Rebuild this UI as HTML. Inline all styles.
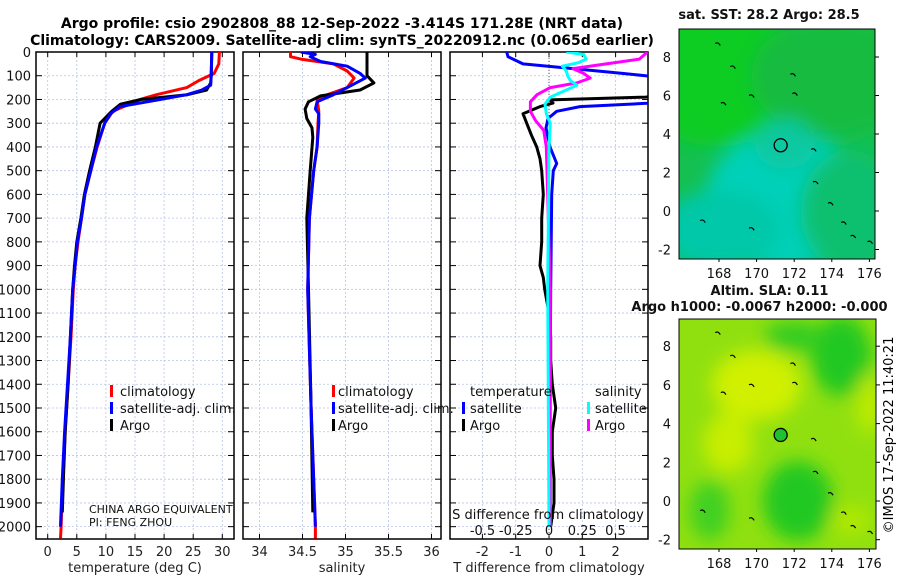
<!DOCTYPE html>
<html><head><meta charset="utf-8">
<style>
html,body{margin:0;padding:0;background:#fff;}
body{width:900px;height:580px;overflow:hidden;font-family:"DejaVu Sans","Liberation Sans",sans-serif;}
svg text{font-family:"DejaVu Sans","Liberation Sans",sans-serif;}
</style></head>
<body>
<svg id="fig" width="900" height="580" viewBox="0 0 900 580" xmlns="http://www.w3.org/2000/svg">
<defs>
<filter id="blur6" x="-50%" y="-50%" width="200%" height="200%"><feGaussianBlur stdDeviation="9"/></filter>
<clipPath id="clipMap1"><rect x="679" y="29" width="196" height="230"/></clipPath>
<clipPath id="clipMap2"><rect x="679" y="319" width="197" height="230"/></clipPath>
<clipPath id="clipP1"><rect x="36" y="52" width="198" height="487"/></clipPath>
<clipPath id="clipP2"><rect x="243" y="52" width="198" height="487"/></clipPath>
<clipPath id="clipP3"><rect x="450" y="52" width="198" height="487"/></clipPath>
</defs>
<text x="342" y="28" font-size="14" font-weight="bold" text-anchor="middle">Argo profile: csio 2902808_88 12-Sep-2022 -3.414S 171.28E (NRT data)</text>
<text x="342" y="45" font-size="14" font-weight="bold" text-anchor="middle">Climatology: CARS2009. Satellite-adj clim: synTS_20220912.nc (0.065d earlier)</text>
<g id="panels"></g>
<g id="maps"></g>
<text font-size="13" text-anchor="middle" transform="translate(893,435) rotate(-90)">©IMOS 17-Sep-2022 11:40:21</text>
</svg>
<script>
// ---- data arrays ----
const depthTicks = [0,100,200,300,400,500,600,700,800,900,1000,1100,1200,1300,1400,1500,1600,1700,1800,1900,2000];
const tempTicks = [0,5,10,15,20,25,30];
const salTicks = [34,34.5,35,35.5,36];
const tdiffTicks = [-2,-1,0,1,2];
const sdiffTicks = [-0.5,-0.25,0,0.25,0.5];
const sdiffTickLabels = ["-0.5","-0.25","0","0.25","0.5"];

const climTempDepth = [0,50,90,120,150,180,200,250,300,400,500,600,700,800,900,1000,1200,1400,1600,1800,2000,2050];
const climTempVal   = [29.5,29.4,28.6,26,23.9,18.7,15.9,11.2,9.8,8.5,7.4,6.4,5.8,5.2,4.7,4.4,4.0,3.5,3.0,2.6,2.3,2.2];
const satTempDepth = [0,100,140,160,180,200,230,260,300,400,500,600,700,800,900,1000,1200,1400,1600,1800,2000];
const satTempVal   = [28.2,28.1,28.0,26.5,23.9,19.3,12.4,10.8,9.8,8.4,7.4,6.4,5.8,5.1,4.7,4.3,3.9,3.4,2.9,2.5,2.2];
const argoTempDepth = [0,100,130,160,180,200,220,250,300,400,500,600,700,800,900,1000,1200,1400,1600,1800,1940];
const argoTempVal   = [28.2,28.1,28.0,27.3,24,16,12.5,11,9.0,8.2,7.2,6.3,5.7,5.0,4.6,4.3,3.9,3.5,3.0,2.7,2.5];

const climSalDepth = [0,20,30,50,80,110,150,180,200,250,300,400,500,700,1000,1500,2000,2050];
const climSalVal   = [34.36,34.36,34.48,34.86,35.02,35.1,35.02,34.79,34.67,34.69,34.68,34.67,34.63,34.58,34.56,34.6,34.65,34.65];
const satSalDepth = [0,10,20,40,60,90,110,150,180,210,240,260,300,400,500,700,1000,1500,2000];
const satSalVal   = [34.48,34.65,34.59,34.71,35.02,35.17,35.23,35.02,34.86,34.67,34.65,34.69,34.69,34.67,34.63,34.58,34.56,34.6,34.65];
const argoSalDepth = [0,100,130,160,185,210,240,280,320,360,500,700,1000,1500,1940];
const argoSalVal   = [35.25,35.25,35.33,35.17,34.71,34.57,34.53,34.55,34.61,34.62,34.59,34.55,34.57,34.6,34.62];

const satTdiffDepth = [0,20,50,70,90,110,140,200,216,230,250,280,320,400,470,500,600,1000,1500,2000];
const satTdiffVal   = [-1.27,-1.23,-0.78,0.72,2.2,3.6,4.5,4.5,2.93,0.93,0.23,-0.03,-0.09,0.03,0.23,0.13,0.08,0.05,0.03,0.0];
const argoTdiffDepth = [175,190,202,215,230,260,300,350,400,450,500,600,700,800,900,950,1000,1100,1200,1300,1400,1500,1600,1700,1800,1900,2000];
const argoTdiffVal   = [4,2.9,0.03,0.12,-0.27,-0.78,-0.67,-0.53,-0.37,-0.27,-0.22,-0.17,-0.22,-0.22,-0.27,-0.17,-0.13,0,0.05,0.05,0.1,0.2,0.1,0.1,0.15,0.15,0.05];
const satSdiffDepth = [0,10,30,45,60,80,100,120,140,160,190,220,260,300,400,1000,2000];
const satSdiffVal   = [0.13,0.26,0.28,0.22,0.1,0.13,0.14,0.16,0.21,0.13,0.01,-0.03,-0.02,0.01,0,-0.01,0];
const argoSdiffDepth = [0,30,50,70,90,110,130,150,180,210,250,290,330,400,600,1000,2000];
const argoSdiffVal   = [0.74,0.68,0.43,0.18,0.26,0.31,0.21,0.01,-0.09,-0.14,-0.14,-0.1,-0.04,-0.02,-0.01,0.01,0.01];

const mapLatTicks = [-2,0,2,4,6,8];
const mapLonTicks = [168,170,172,174,176];
const floatLon = 171.28, floatLat = 3.414;

// ---- axis functions ----
const NS='http://www.w3.org/2000/svg';
const yTop=52, yBot=539, dMax=2052;
const yD = d => yTop + d*(yBot-yTop)/dMax;
const xT = t => 47.7 + t*(222.3-47.7)/30;
const xS = s => 259.5 + (s-34)*86;
const xTd = v => 549 + v*33.3;
const xSd = v => 549 + v*133;
const m1x = lon => 719 + (lon-168)*18.8, m1y = lat => 211 - lat*19.25;
const m2x = lon => 719 + (lon-168)*18.8, m2y = lat => 501 - lat*19.35;

function mk(tag, attrs, parent){ const e=document.createElementNS(NS,tag); for(const k in attrs) e.setAttribute(k,attrs[k]); parent.appendChild(e); return e; }
const panels=document.getElementById('panels');

function panel(name, x0, x1, ticks, xf, labels, xlabel){
  const g=mk('g',{},panels);
  
  
  ticks.forEach((t,i)=>{
    const gl=mk('line',{x1:xf(t),x2:xf(t),y1:yTop,y2:yBot,stroke:'#b8c4e8','stroke-width':0.8,'stroke-dasharray':'2,2'},g);
    
    
    mk('line',{x1:xf(t),x2:xf(t),y1:yBot,y2:yBot-5,stroke:'#000'},g);
    mk('line',{x1:xf(t),x2:xf(t),y1:yTop,y2:yTop+5,stroke:'#000'},g);
    if(labels){
      const tx=mk('text',{x:xf(t),y:556,'font-size':13,'text-anchor':'middle',fill:'#222'},g);
      tx.textContent=labels[i];
      
      
    }
  });
  depthTicks.forEach(d=>{
    mk('line',{x1:x0,x2:x1,y1:yD(d),y2:yD(d),stroke:'#b8c4e8','stroke-width':0.8,'stroke-dasharray':'2,2'},g);
    mk('line',{x1:x0,x2:x0+6,y1:yD(d),y2:yD(d),stroke:'#000'},g);
    mk('line',{x1:x1,x2:x1-6,y1:yD(d),y2:yD(d),stroke:'#000'},g);
  });
  const r=mk('rect',{x:x0,y:yTop,width:x1-x0,height:yBot-yTop,fill:'none',stroke:'#000','stroke-width':1.5},g);
  
  
  const xl=mk('text',{x:(x0+x1)/2,y:572,'font-size':13,'text-anchor':'middle',fill:'#222'},g);
  xl.textContent=xlabel;
  
  
  return g;
}
function series(g, depths, vals, xf, color, clip, name, w){
  const pts=depths.map((d,i)=>xf(vals[i]).toFixed(1)+','+yD(d).toFixed(1)).join(' ');
  const p=mk('polyline',{points:pts,fill:'none',stroke:color,'stroke-width':w||3,'stroke-linejoin':'round','clip-path':'url(#'+clip+')'},g);
  
  
}
function txt(g,x,y,s,size,name,anchor){
  const t=mk('text',{x:x,y:y,'font-size':size,fill:'#111','text-anchor':anchor||'start'},g);
  t.textContent=s;
  
  
  return t;
}
function legendMark(g,x,y,color){
  const m=mk('rect',{x:x,y:y-6,width:3,height:12,fill:color},g);
  
  
}

// y tick labels
const yl=mk('g',{},panels);


depthTicks.forEach(d=>{ txt(yl,31,yD(d)+5,String(d),13,'y-tick-label','end'); });

// panel 1
const p1=panel('temperature-panel',36,234,tempTicks,xT,tempTicks.map(String),'temperature (deg C)');
series(p1,climTempDepth,climTempVal,xT,'#f00','clipP1','climatology-temp-line');
series(p1,argoTempDepth,argoTempVal,xT,'#000','clipP1','argo-temp-line');
series(p1,satTempDepth,satTempVal,xT,'#00f','clipP1','satellite-temp-line');
legendMark(p1,110,391,'#f00'); txt(p1,120,396,'climatology',13,'legend-entry');
legendMark(p1,110,408,'#00f'); txt(p1,120,413,'satellite-adj. clim.',13,'legend-entry');
legendMark(p1,110,425,'#000'); txt(p1,120,430,'Argo',13,'legend-entry');
txt(p1,89,513,'CHINA ARGO EQUIVALENT',11,'pi-institution');
txt(p1,89,526,'PI: FENG ZHOU',11,'pi-name');

// panel 2
const p2=panel('salinity-panel',243,441,salTicks,xS,salTicks.map(String),'salinity');
series(p2,climSalDepth,climSalVal,xS,'#f00','clipP2','climatology-salinity-line');
series(p2,argoSalDepth,argoSalVal,xS,'#000','clipP2','argo-salinity-line');
series(p2,satSalDepth,satSalVal,xS,'#00f','clipP2','satellite-salinity-line');
legendMark(p2,332,391,'#f00'); txt(p2,338,396,'climatology',13,'legend-entry');
legendMark(p2,332,408,'#00f'); txt(p2,338,413,'satellite-adj. clim.',13,'legend-entry');
legendMark(p2,332,425,'#000'); txt(p2,338,430,'Argo',13,'legend-entry');

// panel 3
const p3=panel('difference-panel',450,648,tdiffTicks,xTd,tdiffTicks.map(String),'T difference from climatology');
mk('line',{x1:xTd(0),x2:xTd(0),y1:yTop,y2:yBot,stroke:'#333','stroke-width':0.8,'stroke-dasharray':'1,2'},p3);
series(p3,argoTdiffDepth,argoTdiffVal,xTd,'#000','clipP3','argo-tdiff-line');
series(p3,satTdiffDepth,satTdiffVal,xTd,'#00f','clipP3','satellite-tdiff-line');
series(p3,argoSdiffDepth,argoSdiffVal,xSd,'#f0f','clipP3','argo-sdiff-line');
series(p3,satSdiffDepth,satSdiffVal,xSd,'#0ff','clipP3','satellite-sdiff-line');
txt(p3,470,396,'temperature',13,'legend-heading');
txt(p3,595,396,'salinity',13,'legend-heading');
legendMark(p3,462,408,'#00f'); txt(p3,470,413,'satellite',13,'legend-entry');
legendMark(p3,462,425,'#000'); txt(p3,470,430,'Argo',13,'legend-entry');
legendMark(p3,587,408,'#0ff'); txt(p3,595,413,'satellite',13,'legend-entry');
legendMark(p3,587,425,'#f0f'); txt(p3,595,430,'Argo',13,'legend-entry');
txt(p3,548,519,'S difference from climatology',13,'s-diff-axis-title','middle');
sdiffTicks.forEach((v,i)=>{ txt(p3,xSd(v),535,sdiffTickLabels[i],13,'s-diff-tick-label','middle'); });

// ---- maps ----
const maps=document.getElementById('maps');
function mapFrame(name, x0,y0,w,h, xf, yf, title1, title2, clip, blobs, base){
  const g=mk('g',{},maps);
  
  
  const cg=mk('g',{'clip-path':'url(#'+clip+')'},g);
  mk('rect',{x:x0,y:y0,width:w,height:h,fill:base},cg);
  const bg=mk('g',{filter:'url(#blur6)'},cg);
  blobs.forEach(b=>{ mk('ellipse',{cx:xf(b[0]),cy:yf(b[1]),rx:b[2],ry:b[3],fill:b[4]},bg); });
  // coastline specks
  const specks=[[167.8,8.7],[168.6,7.5],[169.6,6.0],[171.8,7.1],[172.9,3.2],[173,1.5],[173.8,0.4],[174.5,-0.6],[175,-1.3],[175.9,-1.6],[169.6,-0.9],[167,-0.5],[171.9,6.1],[168.1,5.6]];
  specks.forEach(s=>{ const c=mk('path',{d:'M'+xf(s[0])+' '+yf(s[1])+' q3 -2 5 2',fill:'none',stroke:'#000','stroke-width':1.2},cg);
      });
  mk('rect',{x:x0,y:y0,width:w,height:h,fill:'none',stroke:'#000','stroke-width':1},g);
  mapLatTicks.forEach(t=>{
    mk('line',{x1:x0+w,x2:x0+w+4,y1:yf(t),y2:yf(t),stroke:'#000'},g);
    txt(g,x0-8,yf(t)+5,String(t),13,'map-lat-label','end');
  });
  mapLonTicks.forEach(t=>{
    mk('line',{x1:xf(t),x2:xf(t),y1:y0+h,y2:y0+h+3,stroke:'#000'},g);
    txt(g,xf(t),y0+h+19,String(t),13,'map-lon-label','middle');
  });
  txt(g,x0+w/2-8,title2?y0-24:y0-10,title1,13,'map-title','middle').setAttribute('font-weight','bold');
  if(title2) txt(g,x0+w/2-18,y0-8,title2,13,'map-subtitle','middle').setAttribute('font-weight','bold');
  return g;
}
const g1=mapFrame('sst-map',679,29,196,230,m1x,m1y,'sat. SST: 28.2 Argo: 28.5',null,'clipMap1',[
 [168,7,90,70,'#10cc20'],[174,7,80,60,'#18bb40'],[171.5,0.5,80,70,'#00d0b8'],[168,-1,60,40,'#00c8a8'],[175,0,50,60,'#10c070'],[171.5,3.5,30,25,'#10c8a0']
],'#14c050');
const c1=mk('circle',{cx:m1x(floatLon),cy:m1y(floatLat),r:6.5,fill:'none',stroke:'#000','stroke-width':1.3},g1);


const g2=mapFrame('sla-map',679,319,197,230,m2x,m2y,'Altim. SLA: 0.11','Argo h1000: -0.0067 h2000: -0.000','clipMap2',[
 [170,6,45,35,'#d0f000'],[168.5,3,25,30,'#c8ee00'],[174.5,7.5,30,40,'#20c820'],[172,8.5,30,15,'#30cc20'],[172.2,0,35,40,'#20c820'],[167.5,-0.5,20,30,'#40d020'],[176,5,12,30,'#c0ec00'],[175,-1,20,15,'#b0e800']
],'#90e010');
const c2=mk('circle',{cx:m2x(floatLon),cy:m2y(floatLat),r:6.5,fill:'#20c030',stroke:'#000','stroke-width':1.3},g2);


</script>
</body></html>
